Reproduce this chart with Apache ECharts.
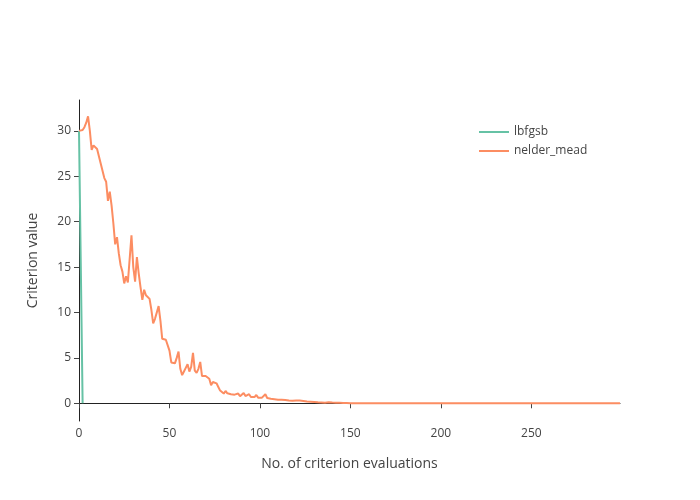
<!DOCTYPE html>
<html>
<head>
<meta charset="utf-8">
<script src="https://cdn.jsdelivr.net/npm/echarts@6/dist/echarts.min.js"></script>
<style>
  html, body { margin: 0; padding: 0; background: #fff; }
  #chart { width: 700px; height: 500px; }
</style>
</head>
<body>
<div id="chart"></div>
<script>
// criterion history, one value per evaluation
const lbfgsbEvals = [0, 1, 2];
const lbfgsbValues = [30, 15, 0];

// nelder_mead: evaluations 0..150 one by one, then sparse tail
const nelderHead = [
  30.0, 30.0, 30.1, 30.4, 30.9, 31.6, 30.0, 27.9, 28.4, 28.3,
  28.0, 27.2, 26.4, 26.2, 24.8, 24.4, 22.3, 23.3, 21.8, 19.8,
  17.5, 18.3, 16.5, 15.2, 14.5, 13.2, 14.0, 13.3, 13.4, 18.5,
  15.0, 13.4, 16.1, 14.3, 12.8, 11.4, 12.5, 11.9, 11.7, 11.5,
  10.3, 8.8, 9.3, 9.2, 10.7, 9.1, 7.1, 7.0, 7.0, 6.8,
  5.8, 4.5, 4.4, 4.4, 5.0, 5.7, 3.8, 3.1, 3.5, 3.9,
  4.3, 3.5, 4.0, 5.55, 3.6, 3.35, 3.8, 4.55, 3.0, 3.1,
  3.0, 3.1, 2.7, 2.0, 2.35, 2.5, 2.2, 1.8, 1.4, 1.25,
  1.07, 1.36, 1.1, 0.88, 1.0, 1.14, 0.95, 1.0, 1.07, 0.77,
  0.88, 1.14, 0.8, 0.77, 1.0, 0.7, 0.9, 0.68, 0.92, 0.62,
  0.78, 0.6, 0.72, 1.0, 0.58, 0.66, 0.5, 0.6, 0.45, 0.55,
  0.4, 0.48, 0.38, 0.52, 0.35, 0.42, 0.3, 0.45, 0.28, 0.38,
  0.3, 0.26, 0.3, 0.22, 0.26, 0.2, 0.21, 0.16, 0.18, 0.14,
  0.15, 0.11, 0.12, 0.09, 0.1, 0.06, 0.07, 0.03, 0.12, 0.04,
  0.09, 0.03, 0.07, 0.03, 0.05, 0.02, 0.03, 0.02, 0.03, 0.02,
  0.01
];
const nelderTailEvals = [175, 200, 225, 250, 275, 299];
const nelderTailValues = [0.01, 0.01, 0.005, 0.005, 0.002, 0.001];

const yTicks = [0, 5, 10, 15, 20, 25, 30];
const xTicks = [0, 50, 100, 150, 200, 250];

const lbfgsbData = lbfgsbEvals.map((x, i) => [x, lbfgsbValues[i]]);
let nelderData = nelderHead.map((v, i) => [i, v]);
nelderTailEvals.forEach((x, i) => nelderData.push([x, nelderTailValues[i]]));

const chart = echarts.init(document.getElementById('chart'), null, { renderer: 'canvas' });

const font = '"Open Sans", "Noto Sans", sans-serif';

var option = {
  animation: false,
  backgroundColor: '#fff',
  textStyle: { fontFamily: font },
  grid: {
    left: 79,
    right: 80,
    top: 100,
    bottom: 79
  },
  legend: {
    orient: 'vertical',
    left: 474,
    top: 121,
    itemWidth: 30,
    itemHeight: 2,
    itemGap: 7,
    icon: 'rect',
    textStyle: { fontFamily: font, fontSize: 12, color: '#444' },
    data: ['lbfgsb', 'nelder_mead']
  },
  xAxis: {
    type: 'value',
    min: 0,
    max: 299,
    name: 'No. of criterion evaluations',
    nameLocation: 'middle',
    nameGap: 36,
    nameTextStyle: { fontSize: 14, color: '#444', fontFamily: font },
    axisLine: { show: true, lineStyle: { color: '#222', width: 1 } },
    axisTick: { show: true, length: 5, customValues: xTicks, lineStyle: { color: '#444' } },
    axisLabel: { customValues: xTicks, fontSize: 12, color: '#444', margin: 7, fontFamily: font },
    splitLine: { show: false }
  },
  yAxis: {
    type: 'value',
    min: -1.95,
    max: 33.4,
    name: 'Criterion value',
    nameLocation: 'middle',
    nameGap: 39,
    nameTextStyle: { fontSize: 14, color: '#444', fontFamily: font },
    axisLine: { show: true, lineStyle: { color: '#222', width: 1 } },
    axisTick: { show: true, length: 5, customValues: yTicks, lineStyle: { color: '#444' } },
    axisLabel: { customValues: yTicks, fontSize: 12, color: '#444', margin: 8, fontFamily: font },
    splitLine: { show: false }
  },
  series: [
    {
      name: 'lbfgsb',
      type: 'line',
      data: lbfgsbData,
      showSymbol: false,
      color: '#66c2a5',
      lineStyle: { width: 2, color: '#66c2a5' }
    },
    {
      name: 'nelder_mead',
      type: 'line',
      data: nelderData,
      showSymbol: false,
      color: '#fc8d62',
      lineStyle: { width: 2, color: '#fc8d62' }
    }
  ]
};

chart.setOption(option);
</script>
</body>
</html>
